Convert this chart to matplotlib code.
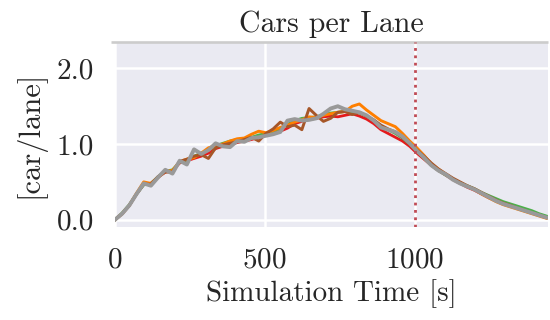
import matplotlib
matplotlib.use("Agg")
import matplotlib.pyplot as plt
import numpy as np

# simulation time [s], sampled every 24 s
time_s = np.arange(0, 1441, 24)

red = [0.00, 0.08, 0.19, 0.34, 0.47, 0.48, 0.56, 0.63, 0.65, 0.75, 0.78, 0.81, 0.84, 0.88, 0.94,
       0.97, 0.99, 1.02, 1.04, 1.06, 1.09, 1.12, 1.14, 1.17, 1.21, 1.27, 1.30, 1.33, 1.34, 1.36,
       1.37, 1.36, 1.38, 1.40, 1.37, 1.33, 1.27, 1.19, 1.14, 1.09, 1.04, 0.97, 0.88, 0.80, 0.72,
       0.65, 0.59, 0.53, 0.48, 0.43, 0.39, 0.34, 0.29, 0.25, 0.21, 0.18, 0.15, 0.12, 0.09, 0.06,
       0.03]
green = [0.00, 0.09, 0.20, 0.34, 0.46, 0.48, 0.57, 0.64, 0.66, 0.76, 0.79, 0.84, 0.88, 0.92, 0.98,
         1.01, 1.04, 1.06, 1.07, 1.09, 1.12, 1.14, 1.17, 1.21, 1.26, 1.31, 1.34, 1.35, 1.36, 1.39,
         1.41, 1.42, 1.43, 1.43, 1.41, 1.37, 1.31, 1.24, 1.19, 1.14, 1.08, 1.00, 0.91, 0.81, 0.72,
         0.65, 0.59, 0.54, 0.49, 0.45, 0.41, 0.36, 0.32, 0.28, 0.24, 0.21, 0.18, 0.15, 0.12, 0.08,
         0.05]
orange = [0.00, 0.08, 0.19, 0.35, 0.50, 0.48, 0.56, 0.64, 0.65, 0.77, 0.80, 0.82, 0.88, 0.95, 0.98,
          1.00, 1.04, 1.07, 1.08, 1.13, 1.17, 1.15, 1.18, 1.22, 1.25, 1.29, 1.32, 1.36, 1.35, 1.38,
          1.40, 1.42, 1.43, 1.50, 1.53, 1.45, 1.38, 1.31, 1.27, 1.23, 1.14, 1.04, 0.95, 0.85, 0.74,
          0.67, 0.60, 0.54, 0.49, 0.44, 0.40, 0.34, 0.29, 0.24, 0.20, 0.17, 0.14, 0.11, 0.08, 0.05,
          0.02]
brown = [0.00, 0.08, 0.19, 0.34, 0.47, 0.47, 0.57, 0.63, 0.63, 0.77, 0.80, 0.84, 0.86, 0.81, 0.95,
         0.99, 1.01, 1.03, 1.06, 1.09, 1.04, 1.14, 1.20, 1.29, 1.23, 1.25, 1.19, 1.47, 1.38, 1.30,
         1.34, 1.42, 1.43, 1.39, 1.42, 1.37, 1.32, 1.25, 1.20, 1.16, 1.09, 1.00, 0.92, 0.84, 0.75,
         0.67, 0.61, 0.55, 0.50, 0.45, 0.41, 0.36, 0.31, 0.26, 0.22, 0.19, 0.15, 0.12, 0.09, 0.06,
         0.03]
gray = [0.00, 0.08, 0.19, 0.34, 0.48, 0.45, 0.56, 0.66, 0.61, 0.78, 0.73, 0.93, 0.87, 0.92, 1.01,
        0.97, 0.96, 1.04, 1.03, 1.08, 1.09, 1.11, 1.13, 1.16, 1.31, 1.33, 1.31, 1.32, 1.34, 1.40,
        1.47, 1.50, 1.46, 1.44, 1.42, 1.38, 1.31, 1.22, 1.19, 1.16, 1.10, 1.01, 0.91, 0.82, 0.72,
        0.65, 0.60, 0.53, 0.48, 0.44, 0.40, 0.35, 0.30, 0.25, 0.21, 0.18, 0.15, 0.12, 0.09, 0.06,
        0.03]

series = [red, green, orange, brown, gray]
colors = ["#e41a1c", "#4daf4a", "#ff7f00", "#a65628", "#999999"]
widths = [2.0, 2.0, 2.1, 2.1, 2.8]
cutoff_time = 1000

plt.rcParams.update({
    "font.family": "serif",
    "font.serif": ["cmr10", "DejaVu Serif"],
    "mathtext.fontset": "cm",
    "axes.formatter.use_mathtext": True,
    "font.size": 21,
})

fig = plt.figure(figsize=(5.5, 3.2), dpi=100)
ax = fig.add_axes([0.209, 0.292, 0.787, 0.577])
ax.set_facecolor("#EAEAF2")
for side in ["left", "right", "bottom", "top"]:
    ax.spines[side].set_visible(False)
ax.grid(True, color="white", linewidth=1.8)
ax.set_axisbelow(True)

# light grey band along the top edge, reaching slightly past the left edge
ax.plot([-0.009, 1.0], [1.0, 1.0], transform=ax.transAxes, color="#cccccc",
        linewidth=1.9, clip_on=False, solid_capstyle="butt")

for vals, c, lw in zip(series, colors, widths):
    ax.plot(time_s, vals, color=c, linewidth=lw)

ax.axvline(cutoff_time, color="#bf4b55", linestyle=":", linewidth=2)

ax.set_xlim(0, 1445)
ax.set_ylim(-0.09, 2.35)
ax.set_xticks([0, 500, 1000])
ax.set_yticks([0.0, 1.0, 2.0])
ax.set_yticklabels(["0.0", "1.0", "2.0"])
ax.tick_params(length=0, pad=15, colors="#262626")

ax.set_title("Cars per Lane", color="#262626", fontsize=21.5, pad=7)
ax.set_xlabel("Simulation Time [s]", color="#262626", labelpad=4)
ax.set_ylabel("[car/lane]", color="#262626", fontsize=22, labelpad=8)

fig.savefig("out.png", dpi=100)
